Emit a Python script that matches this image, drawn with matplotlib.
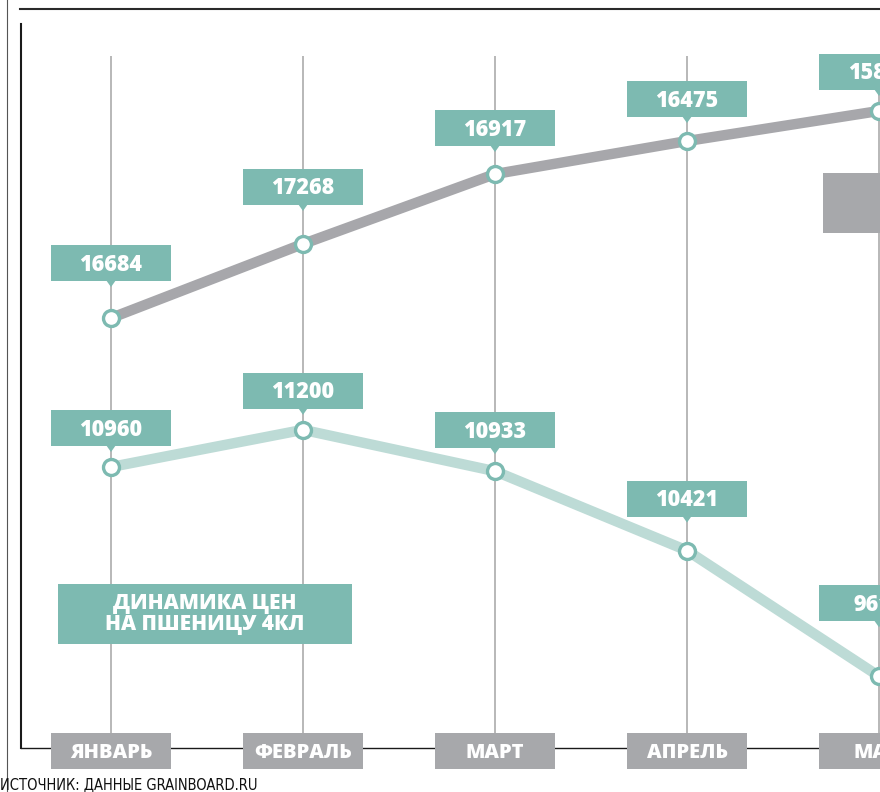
import matplotlib
matplotlib.use("Agg")
import matplotlib.pyplot as plt
from matplotlib.patches import Rectangle, Polygon
from matplotlib.lines import Line2D
from matplotlib.transforms import ScaledTranslation

plt.rcParams["font.family"] = ["Open Sans", "DejaVu Sans"]

months = ["ЯНВАРЬ", "ФЕВРАЛЬ", "МАРТ", "АПРЕЛЬ", "МАЙ"]
# нижняя линия - цена пшеницы 4 класса (нарисована в масштабе)
wheat4 = [10960, 11200, 10933, 10421, 9610]
# верхняя линия - подписи
upper_labels = [16684, 17268, 16917, 16475, 15850]
# верхняя линия на картинке не в масштабе, высоты
upper_drawn = [11921, 12399, 12850, 13063, 13257]

# расстояние от точки до низа плашки, px
gap_upper = [37, 39, 28, 24, 21]
gap_lower = [21, 21, 23, 34, 55]

TEAL = "#7dbab1"
GREY_LINE = "#a7a7ab"
LIGHT_LINE = "#bddbd6"
GREY_BOX = "#a7a8ab"
GRID = "#ababab"

W, H = 880, 792
fig = plt.figure(figsize=(W / 100, H / 100), dpi=100)
ax = fig.add_axes([0, 0, 1, 1])
ax.axis("off")
ax.set_xlim(-111 / 192, 769 / 192)
ax.set_ylim(10960 - 325 / 0.155, 10960 + 467 / 0.155)

x = list(range(len(months)))

# вертикальные линии
ax.vlines(x, 1 - 733 / H, 1 - 56 / H, transform=ax.get_xaxis_transform(),
          color=GRID, lw=1.2, zorder=1)

ax.plot(x, upper_drawn, color=GREY_LINE, lw=7.5, solid_capstyle="butt", zorder=2)
ax.plot(x, wheat4, color=LIGHT_LINE, lw=7.5, solid_capstyle="butt", zorder=2)
for ys in (upper_drawn, wheat4):
    ax.plot(x, ys, "o", ms=11.5, mfc="white", mec=TEAL, mew=2.4, zorder=4)


def label(i, v, txt, gap):
    tr = fig.dpi_scale_trans + ScaledTranslation(i, v, ax.transData)
    g = gap / 100
    ax.add_patch(Rectangle((-0.6, g), 1.2, 0.36, fc=TEAL, ec="none",
                           transform=tr, zorder=5))
    ax.add_patch(Polygon([(-0.05, g + 0.01), (0.05, g + 0.01), (0, g - 0.06)],
                         closed=True, fc=TEAL, ec="none", transform=tr, zorder=5))
    ax.text(0, g + 0.105, txt, transform=tr, ha="center", va="baseline",
            color="white", fontsize=15.5, fontweight="heavy", zorder=6)


for i in x:
    label(i, upper_drawn[i], str(upper_labels[i]), gap_upper[i])
    label(i, wheat4[i], str(wheat4[i]), gap_lower[i])

# подписи месяцев
for i, m in enumerate(months):
    tr = fig.dpi_scale_trans + ScaledTranslation(i, 0, ax.get_xaxis_transform())
    ax.add_patch(Rectangle((-0.6, 0.23), 1.2, 0.36, fc=GREY_BOX, ec="none",
                           transform=tr, zorder=5))
    ax.text(0, 0.345, m, transform=tr, ha="center", va="baseline",
            color="white", fontsize=14.5, fontweight="heavy", zorder=6)

# рамка
def fline(xs, ys, **kw):
    fig.add_artist(Line2D([a / W for a in xs], [1 - b / H for b in ys],
                          transform=fig.transFigure, **kw))

fline([7, 7], [0, H], color="#555555", lw=0.8)
fline([20, W], [9, 9], color="#2a2a2a", lw=1.5)
fline([21, 21], [24, 748], color="#1a1a1a", lw=1.5)
fline([21, W], [748, 748], color="#1a1a1a", lw=1.0, zorder=0)

# заголовок
fig.add_artist(Rectangle((58 / W, 1 - 644 / H), 294 / W, 60 / H, fc=TEAL,
                         ec="none", transform=fig.transFigure))
fig.text(205 / W, 1 - 609 / H, "ДИНАМИКА ЦЕН", ha="center", va="baseline",
         color="white", fontsize=15, fontweight="heavy")
fig.text(205 / W, 1 - 630 / H, "НА ПШЕНИЦУ 4КЛ", ha="center", va="baseline",
         color="white", fontsize=15, fontweight="heavy")

# серая плашка справа (обрезана)
fig.add_artist(Rectangle((823 / W, 1 - 233 / H), 0.2, 60 / H, fc=GREY_BOX,
                         ec="none", transform=fig.transFigure))

fig.text(0, 1 - 789 / H, "ИСТОЧНИК: ДАННЫЕ GRAINBOARD.RU", ha="left",
         va="baseline", color="#111111", fontsize=10.5, fontstretch="condensed",
         family=["Liberation Sans Narrow", "DejaVu Sans"])

fig.savefig("out.png", dpi=100)
